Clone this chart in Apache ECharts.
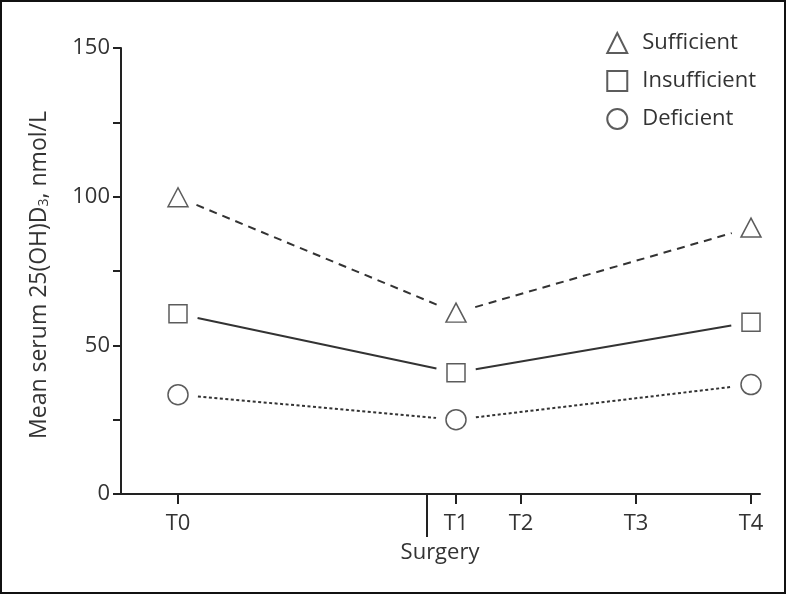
<!DOCTYPE html>
<html><head><meta charset="utf-8">
<script src="https://cdn.jsdelivr.net/npm/echarts@6/dist/echarts.min.js"></script>
<style>
html,body{margin:0;padding:0;background:#fff;}
#wrap{position:relative;width:786px;height:594px;}
#c{width:786px;height:594px;}
#frame{position:absolute;left:0;top:0;width:786px;height:594px;box-sizing:border-box;border:2px solid #111;pointer-events:none;}
</style></head>
<body><div id="wrap"><div id="c"></div><div id="frame"></div></div>
<script>
// timeline positions of the study time points (arbitrary timeline units)
const timeNames = ['T0', 'T1', 'T2', 'T3', 'T4'];
const timeValues = [0, 278, 343, 458, 573];
const surgeryTime = 249;
const surgeryLabel = 'Surgery';
// measurements taken at T0, T1, T4
const measuredAt = ['T0', 'T1', 'T4'];
const sufficient = [99.8, 61, 89.6];
const insufficient = [60.6, 40.8, 57.8];
const deficient = [33.4, 25, 36.8];
const yTicks = [0, 50, 100, 150];
const yName = 'Mean serum 25(OH)D{s|3}, nmol/L';

const tx = n => timeValues[timeNames.indexOf(n)];
const ink = '#333';
const FS = 22;

function points(vals){ return measuredAt.map((t,i)=>[tx(t), vals[i]]); }
function segs(vals){
  const out=[];
  for(let i=1;i<vals.length;i++) out.push([tx(measuredAt[i-1]), vals[i-1], tx(measuredAt[i]), vals[i]]);
  return out;
}
function segRender(dash){
  return function(params, api){
    const p1 = api.coord([api.value(0), api.value(1)]);
    const p2 = api.coord([api.value(2), api.value(3)]);
    const dx = p2[0]-p1[0], dy = p2[1]-p1[1];
    const L = Math.sqrt(dx*dx+dy*dy), ux = dx/L, uy = dy/L, g = 20;
    return {type:'line', shape:{x1:p1[0]+ux*g, y1:p1[1]+uy*g, x2:p2[0]-ux*g, y2:p2[1]-uy*g},
      style:{stroke:ink, lineWidth:2, lineDash:dash, fill:null}};
  };
}
const markerStyle = {color:'#fff', borderColor:ink, borderWidth:1.5};

const chart = echarts.init(document.getElementById('c'), null, {renderer:'canvas'});
chart.setOption({
  animation:false,
  backgroundColor:'#fff',
  textStyle:{fontFamily:'Open Sans'},
  grid:{left:121, right:26, top:48, bottom:100, containLabel:false, outerBoundsMode:'none'},
  legend:{
    orient:'vertical', right:25, top:27, itemWidth:20, itemHeight:20, itemGap:16,
    data:['Sufficient','Insufficient','Deficient'],
    textStyle:{fontSize:FS, color:ink, fontFamily:'Open Sans', padding:[0,0,0,10]},
    selectedMode:false
  },
  xAxis:{
    type:'value', min:-57, max:582,
    splitLine:{show:false},
    axisLine:{onZero:false, lineStyle:{color:'#222', width:2}},
    axisTick:{show:true, length:10, lineStyle:{color:'#222', width:2}, customValues: timeValues},
    axisLabel:{fontSize:FS, color:ink, margin:19, customValues: timeValues,
      formatter: v => { const i = timeValues.indexOf(v); return i>=0 ? timeNames[i] : ''; }}
  },
  yAxis:{
    type:'value', min:0, max:150, interval:25,
    splitLine:{show:false},
    axisLine:{show:true, onZero:false, lineStyle:{color:'#222', width:2}},
    axisTick:{show:true, length:8, lineStyle:{color:'#222', width:2}},
    axisLabel:{fontSize:FS, color:ink, margin:11,
      formatter: v => yTicks.indexOf(v)>=0 ? String(v) : ''},
    name: yName, nameLocation:'middle', nameGap:70, nameRotate:90,
    nameTextStyle:{fontSize:23, color:ink, fontFamily:'Open Sans', padding:[0,8,0,0],
      rich:{s:{fontSize:14, color:ink, fontFamily:'Open Sans', verticalAlign:'bottom'}}}
  },
  series:[
    {type:'custom', name:'l1', data:segs(sufficient), encode:{x:[0,2], y:[1,3]}, renderItem:segRender([8,6]), silent:true},
    {type:'custom', name:'l2', data:segs(insufficient), encode:{x:[0,2], y:[1,3]}, renderItem:segRender(null), silent:true},
    {type:'custom', name:'l3', data:segs(deficient), encode:{x:[0,2], y:[1,3]}, renderItem:segRender([3,2.5]), silent:true},
    {type:'scatter', name:'Sufficient', symbol:'triangle', symbolSize:[20,19], data:points(sufficient), itemStyle:markerStyle},
    {type:'scatter', name:'Insufficient', symbol:'rect', symbolSize:18, data:points(insufficient), itemStyle:markerStyle},
    {type:'scatter', name:'Deficient', symbol:'circle', symbolSize:20, data:points(deficient), itemStyle:markerStyle},
    {type:'custom', name:'surgery', clip:false, silent:true, data:[[surgeryTime, 0]],
      renderItem:function(params, api){
        const p = api.coord([api.value(0), api.value(1)]);
        return {type:'group', children:[
          {type:'line', shape:{x1:p[0], y1:p[1], x2:p[0], y2:p[1]+43}, style:{stroke:'#222', lineWidth:2}},
          {type:'text', style:{text:surgeryLabel, x:p[0]+13, y:p[1]+59, align:'center', verticalAlign:'middle',
            fontSize:FS, fill:ink, fontFamily:'Open Sans'}}
        ]};
      }}
  ]
});
</script></body></html>
